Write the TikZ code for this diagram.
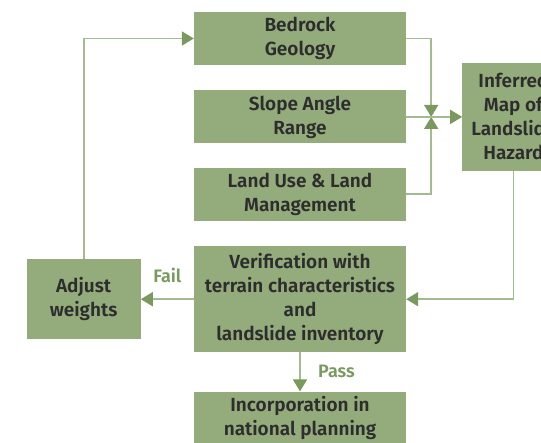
\documentclass[tikz,border=0pt]{standalone}
\usepackage{fontspec}
\setmainfont{Fira Sans}[BoldFont={Fira Sans SemiBold}]
\usetikzlibrary{arrows.meta,positioning}
\definecolor{boxgreen}{RGB}{148,171,123}
\definecolor{linegreen}{RGB}{163,187,143}
\definecolor{tipgreen}{RGB}{122,153,94}
\definecolor{textgrey}{RGB}{45,45,45}

\begin{document}
\begin{tikzpicture}[x=1pt,y=1pt,>={Triangle[width=14pt,length=12pt,color=tipgreen]},
  box/.style={fill=boxgreen,text=textgrey,font=\bfseries\fontsize{19}{24}\selectfont,align=center,minimum width=212pt,minimum height=53pt,inner sep=0pt},
  link/.style={draw=linegreen,line width=1.8pt},
  tag/.style={text=tipgreen,font=\bfseries\fontsize{18}{20}\selectfont}]
	  \useasboundingbox (0,0) rectangle (541,-442);
	  \clip (0,0) rectangle (541,-442);
	  \node[box] (geology) at (300,-38.5) {Bedrock\\Geology};
	  \node[box, below=25pt of geology] (slope) {Slope Angle\\Range};
	  \node[box, below=24pt of slope] (landuse) {Land Use \& Land\\Management};
	  \node[box, below=25pt of landuse, minimum height=106pt] (verify) {Verification with\\terrain characteristics\\and\\landslide inventory};
	  \node[box, below=39pt of verify] (planning) {Incorporation in\\national planning};
	  \node[box, left=53pt of verify, minimum width=114pt, minimum height=80pt] (adjust) {Adjust\\weights};
	  \node[box, right=56pt of slope, minimum width=102pt, minimum height=108pt] (hazard) {Inferred\\Map of\\Landslide\\Hazard};
	  \coordinate (join) at ([xshift=25pt]slope.east);

	  \draw[link,->] (geology.east) -| (join);
	  \draw[link,->] (landuse.east) -| (join);
	  \draw[link,->] (slope.east) -- (hazard.west);
	  \draw[link,->] (hazard.south) |- (verify.east);
	  \draw[link,->] (verify.west) -- node[tag, above=12pt] {Fail} (adjust.east);
	  \draw[link,->] (adjust.north) |- (geology.west);
	  \draw[link,->] (verify.south) -- node[tag, right=14pt] {Pass} (planning.north);
\end{tikzpicture}
\end{document}
